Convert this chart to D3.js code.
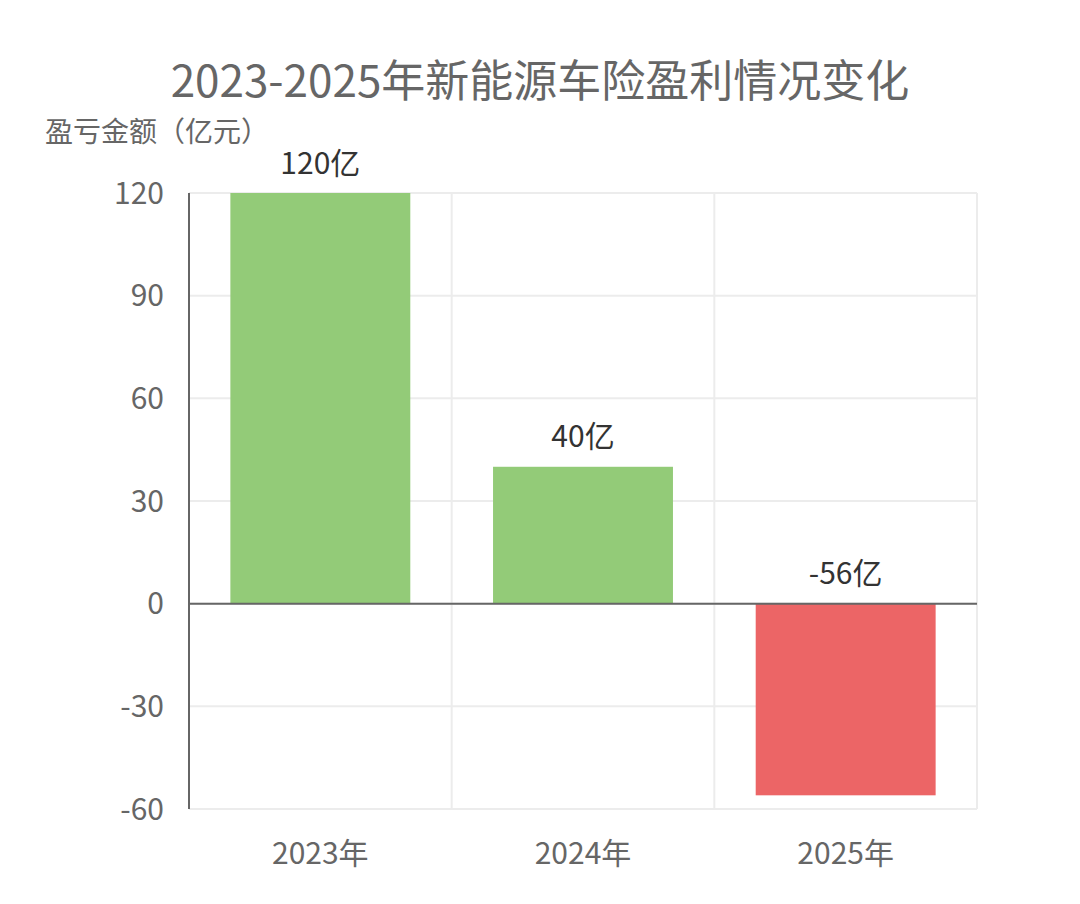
<!DOCTYPE html><html><head><meta charset="utf-8">
<script src="https://cdn.jsdelivr.net/npm/d3@7"></script>
<style>body{margin:0;background:#fff}svg{font-family:"Noto Sans CJK SC","Noto Sans",sans-serif}</style></head><body>
<svg id="c" width="1080" height="904"></svg>
<script>
const categories=["2023年","2024年","2025年"];
const values=[120,40,-56];
const labels=["120亿","40亿","-56亿"];
const yTicks=[-60,-30,0,30,60,90,120];
const svg=d3.select("#c");
const L=189,R=977,T=193,B=809;
const x=d3.scaleBand().domain(categories).range([L,R]);
const y=d3.scaleLinear().domain([-60,120]).range([B,T]);
const g=svg.append("g");
g.selectAll(".hg").data(yTicks).join("line").attr("x1",L).attr("x2",R).attr("y1",d=>y(d)).attr("y2",d=>y(d)).attr("stroke","#ececec").attr("stroke-width",2);
const bounds=categories.map(c=>x(c)+x.bandwidth());
g.selectAll(".vg").data(bounds).join("line").attr("x1",d=>d).attr("x2",d=>d).attr("y1",T).attr("y2",B).attr("stroke","#ececec").attr("stroke-width",2);
const bw=x.bandwidth()*0.685;
g.selectAll(".bar").data(values).join("rect")
 .attr("x",(d,i)=>x(categories[i])+(x.bandwidth()-bw)/2).attr("width",bw)
 .attr("y",d=>y(Math.max(0,d))).attr("height",d=>Math.abs(y(d)-y(0)))
 .attr("fill",d=>d>=0?"#93cb78":"#ec6566");
g.append("line").attr("x1",L).attr("x2",R).attr("y1",y(0)).attr("y2",y(0)).attr("stroke","#666").attr("stroke-width",2);
g.append("line").attr("x1",L).attr("x2",L).attr("y1",T).attr("y2",B).attr("stroke","#666").attr("stroke-width",2);
g.selectAll(".yl").data(yTicks).join("text").attr("x",L-25).attr("y",d=>y(d)).attr("dy","0.35em").attr("text-anchor","end").attr("font-size",30).attr("fill","#666").text(d=>d);
g.selectAll(".xl").data(categories).join("text").attr("x",d=>x(d)+x.bandwidth()/2).attr("y",B+44).attr("dy","0.35em").attr("text-anchor","middle").attr("font-size",30).attr("fill","#666").text(d=>d);
g.selectAll(".vl").data(values).join("text").attr("x",(d,i)=>x(categories[i])+x.bandwidth()/2).attr("y",d=>y(Math.max(0,d))-30).attr("dy","0.35em").attr("text-anchor","middle").attr("font-size",30).attr("fill","#333").text((d,i)=>labels[i]);
svg.append("text").attr("x",540).attr("y",82).attr("dy","0.35em").attr("text-anchor","middle").attr("font-size",44).attr("fill","#666").text("2023-2025年新能源车险盈利情况变化");
svg.append("text").attr("x",45).attr("y",132).attr("dy","0.35em").attr("font-size",28).attr("fill","#666").text("盈亏金额（亿元）");
</script></body></html>
